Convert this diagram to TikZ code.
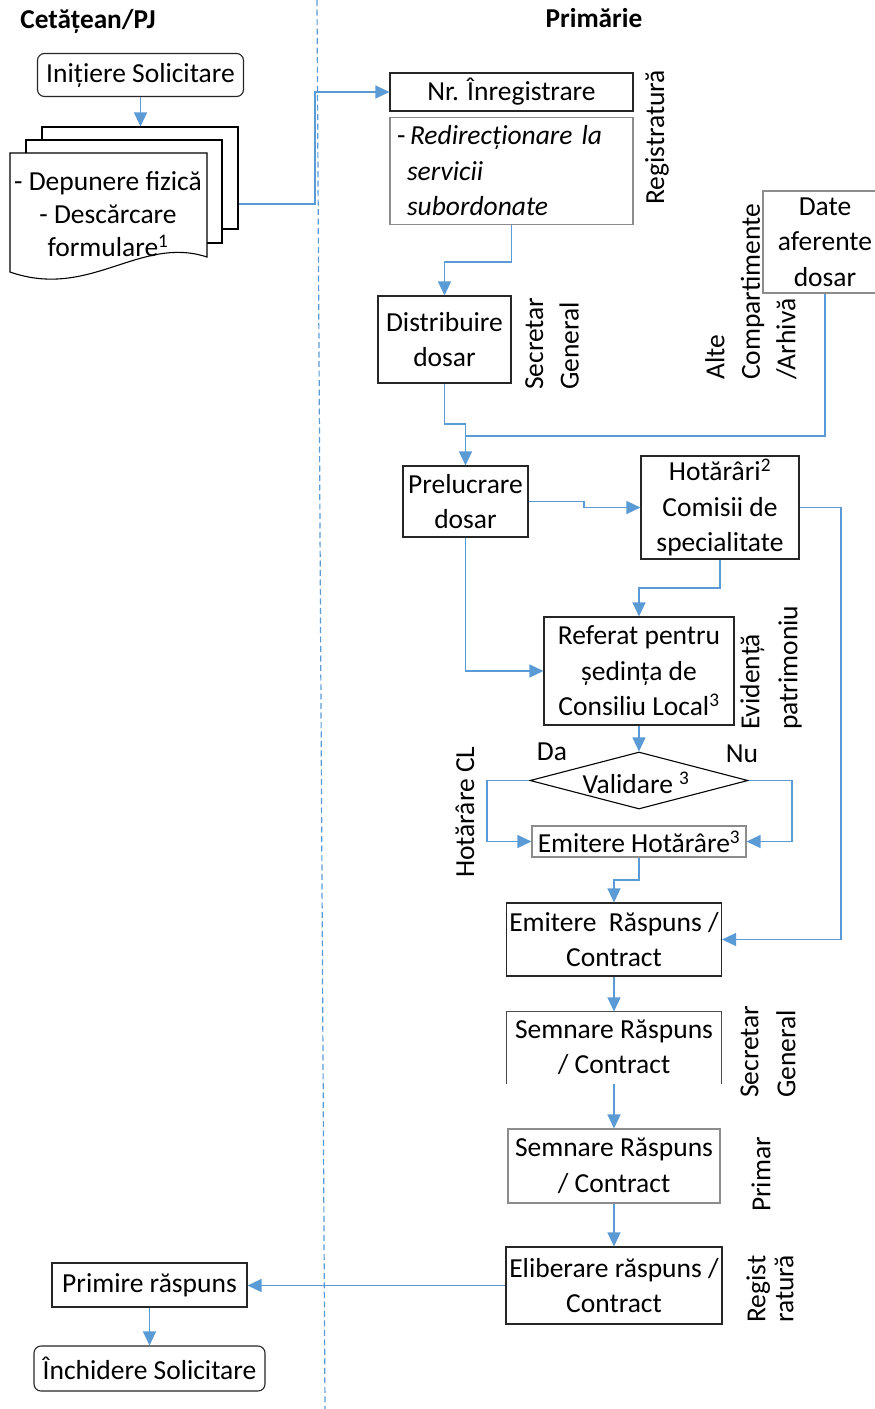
\documentclass[tikz,border=0pt]{standalone}
\usepackage{fontspec}
\setmainfont{Carlito}
\usetikzlibrary{arrows.meta,shapes.geometric}
\definecolor{lineblue}{RGB}{91,155,213}
\newcommand{\bodyfont}{\fontsize{27.5}{35.5}\selectfont}
\newcommand{\headfont}{\fontsize{27.3}{30}\selectfont\bfseries}

\begin{document}
\begin{tikzpicture}[x=1pt,y=-1pt,
  every node/.style={font=\bodyfont, inner sep=0pt},
  box/.style={draw=black!85, line width=1.1pt, fill=white, align=center},
  softbox/.style={box, draw=black!45},
  rbox/.style={box, rounded corners=7pt},
  sidelabel/.style={rotate=90, anchor=west, align=left},
  conn/.style={draw=lineblue, line width=1.3pt, -{Triangle[length=14pt,width=13pt]}},
  link/.style={draw=lineblue, line width=1.3pt},
  lane/.style={draw=lineblue, line width=1.2pt, dash pattern=on 6pt off 3.5pt},
  sheet/.style={draw=black, line width=1.1pt, fill=white},
]
\useasboundingbox (0,0) rectangle (875,1409);
\clip (0,0) rectangle (875,1409);

% swimlane divider
\draw[lane] (317,0) -- (325,1409);

% lane headings
\node[font=\headfont] (hcit) at (88,21) {Cetățean/PJ};
\node[font=\headfont] (hpri) at (594,18) {Primărie};

% ---- citizen side ----
\node[rbox, minimum width=206pt, minimum height=43pt] (init) at (140.5,75) {Inițiere Solicitare};

% stacked documents
\node[sheet, minimum width=196pt, minimum height=102pt] (doc3) at (140,178) {};
\node[sheet, minimum width=196pt, minimum height=103pt] (doc2) at (124,191.5) {};
\filldraw[sheet] (10,153) -- (207,153) -- (207,257)
  .. controls (140,235) and (90,300) .. (10,272) -- cycle;
\node[align=center, font=\fontsize{27.5}{33}\selectfont] (doc1) at (108,214)
  {- Depunere fizică\\- Descărcare\\formulare\textsuperscript{1}};

\node[box, minimum width=195pt, minimum height=44pt] (prim) at (149.5,1285) {Primire răspuns};
\node[rbox, minimum width=231pt, minimum height=45pt] (inch) at (149.5,1368.5) {Închidere Solicitare};

% ---- city hall side ----
\node[box, minimum width=243pt, minimum height=38pt] (nr) at (511.5,92) {Nr. Înregistrare};
\node[softbox, align=left, text width=229pt, inner xsep=7pt, minimum height=107pt] (redir) at (511.5,171)
  {-\,\textit{Redirecționare la}\\\hspace*{10pt}\textit{servicii}\\\hspace*{10pt}\textit{subordonate}};
\node[sidelabel] (lreg) at (657,205) {Registratură};

\node[box, minimum width=133pt, minimum height=87pt] (dist) at (444.5,339.5) {Distribuire\\dosar};
\node[sidelabel] (lsg1) at (552,390) {Secretar\\General};

\node[softbox, minimum width=124pt, minimum height=102pt] (date) at (825,242) {Date\\aferente\\dosar};
\node[sidelabel] (lalte) at (751,380) {Alte\\Compartimente\\/Arhivă};

\node[box, minimum width=125pt, minimum height=71pt] (prel) at (465.5,501.5) {Prelucrare\\dosar};
\node[box, minimum width=158pt, minimum height=103pt] (hot) at (720,507.5)
  {Hotărâri\textsuperscript{2}\\Comisii de\\specialitate};

\node[box, minimum width=190pt, minimum height=108pt] (ref) at (639,671)
  {Referat pentru\\ședința de\\Consiliu Local\textsuperscript{3}};
\node[sidelabel, font=\fontsize{27.5}{38}\selectfont] (lev) at (771,730) {Evidență\\patrimoniu};

\node[draw=black, line width=1.1pt, fill=white, shape=diamond, aspect=3.82,
      minimum width=218pt, minimum height=57pt] (val) at (639,780.5) {};
\node (valtxt) at (636,783) {Validare \textsuperscript{3}};
\node (da) at (552,752) {Da};
\node (nu) at (742,754) {Nu};
\node[sidelabel] (lhcl) at (465,878) {Hotărâre CL};

\node[softbox, minimum width=214pt, minimum height=31pt] (emh) at (639,841.5) {Emitere Hotărâre\textsuperscript{3}};

\node[box, minimum width=215pt, minimum height=73pt] (emr) at (614,939.5) {Emitere\ \ Răspuns /\\Contract};

\node[box, draw=none, minimum width=214pt, minimum height=71pt] (sem1) at (614,1047.5) {Semnare Răspuns\\/ Contract};
\draw[black!70, line width=1.1pt] (sem1.south west) -- (sem1.north west) -- (sem1.north east) -- (sem1.south east);
\node[sidelabel, font=\fontsize{27.5}{37}\selectfont] (lsg2) at (768,1098) {Secretar\\General};

\node[softbox, minimum width=212pt, minimum height=74pt] (sem2) at (614,1166) {Semnare Răspuns\\/ Contract};
\node[sidelabel] (lprimar) at (761,1212) {Primar};

\node[box, minimum width=216pt, minimum height=77pt] (elib) at (614,1285.5) {Eliberare răspuns /\\Contract};
\node[sidelabel, font=\fontsize{27.5}{28}\selectfont] (lreg2) at (770,1323) {Regist\\ratură};

% ---- connectors ----
\draw[conn] (init.south) -- (init.south |- doc3.north);
\draw[conn] ([yshift=-26pt]doc3.east) -| (315,92) -- (nr.west);
\draw[conn] (redir.south) |- (dist.north |- 0,262) -- (dist.north);
\draw[conn] (dist.south) |- (prel.north |- 0,424) -- (prel.north);
\draw[link] (date.south) |- (prel.north |- 0,436);
\draw[conn] (prel.east) -| (584,507.5) -- (hot.west);
\draw[conn] (hot.east) -| (841,939.5) -- (emr.east);
\draw[conn] (hot.south) |- (ref.north |- 0,588) -- (ref.north);
\draw[conn] (prel.south) |- (ref.west);
\draw[conn] (ref.south) -- (val.north);
\draw[conn] (val.west) -| (487,841.5) -- (emh.west);
\draw[conn] (val.east) -| (792,841.5) -- (emh.east);
\draw[conn] (emh.south) |- (emr.north |- 0,880) -- (emr.north);
\draw[conn] (emr.south) -- (sem1.north);
\draw[conn] (sem1.south) -- (sem2.north);
\draw[conn] (sem2.south) -- (elib.north);
\draw[conn] (elib.west) -- (elib.west -| prim.east);
\draw[conn] (prim.south) -- (inch.north);
\end{tikzpicture}
\end{document}
